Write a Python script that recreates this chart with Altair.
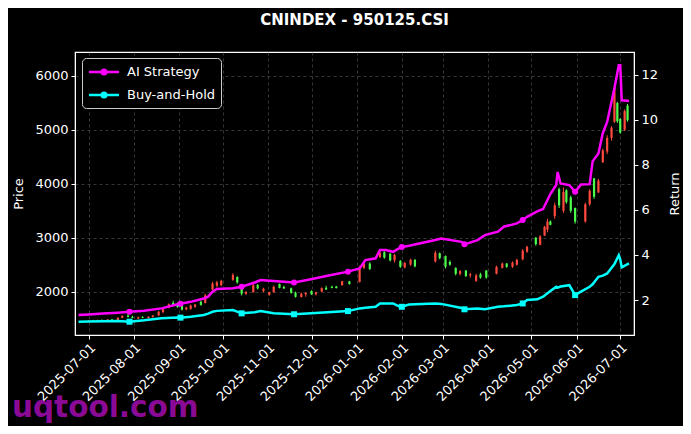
import altair as alt
import pandas as pd

BASE = pd.Timestamp("2025-07-01")

# ---- candlestick data (day offset from 2025-07-01) ----
candle_day = [0, 3, 6, 9, 13, 16, 20, 23, 27, 30, 34, 37, 41, 44, 48, 51, 55, 58, 61, 64,
              67, 70, 73, 77, 80, 85, 88, 91, 99, 102, 105, 108, 113, 116, 120, 124, 127, 131, 134, 139,
              142, 146, 149, 153, 156, 160, 163, 167, 170, 174, 179, 186, 189, 193, 200, 203, 207, 210, 214, 217,
              221, 224, 238, 241, 245, 248, 252, 255, 259, 262, 266, 269, 273, 280, 284, 287, 291, 294, 298, 301,
              307, 310, 313, 315, 317, 320, 323, 326, 328, 331, 334, 341, 344, 347, 350, 353, 356, 359, 361, 363,
              365, 368, 370]
candle_open = [1450, 1462, 1452, 1472, 1460, 1482, 1470, 1515, 1555, 1530, 1500, 1525, 1510, 1530, 1560, 1620, 1700, 1790, 1760, 1740,
               1670, 1680, 1720, 1810, 1790, 2040, 2110, 2120, 2220, 2270, 2060, 1960, 1990, 2120, 2010, 1940, 1990, 2140, 2085, 2060,
               1980, 1900, 1950, 2010, 1950, 2000, 2070, 2090, 2095, 2120, 2190, 2180, 2440, 2520, 2640, 2730, 2700, 2580, 2570, 2450,
               2500, 2590, 2560, 2710, 2660, 2550, 2440, 2330, 2390, 2300, 2200, 2320, 2390, 2330, 2440, 2520, 2460, 2500, 2600, 2740,
               3000, 2870, 3040, 3150, 3300, 3400, 3900, 3500, 3880, 3750, 3550, 3300, 3620, 4100, 3840, 4400, 4600, 4850, 5150, 5500,
               5200, 5000, 5450]
candle_high = [1470, 1475, 1480, 1485, 1490, 1495, 1525, 1560, 1590, 1555, 1535, 1545, 1540, 1565, 1640, 1690, 1780, 1830, 1800, 1760,
               1720, 1760, 1770, 1835, 1960, 2180, 2200, 2220, 2340, 2285, 2080, 2010, 2150, 2140, 2070, 2000, 2110, 2150, 2110, 2075,
               2000, 1980, 1990, 2025, 1995, 2080, 2110, 2110, 2105, 2200, 2200, 2480, 2540, 2545, 2760, 2750, 2720, 2700, 2585, 2550,
               2610, 2600, 2760, 2725, 2670, 2580, 2450, 2400, 2400, 2350, 2330, 2350, 2400, 2480, 2540, 2530, 2560, 2610, 2790, 2850,
               3010, 3050, 3220, 3350, 3320, 3650, 3930, 3930, 3900, 3780, 3560, 3650, 3900, 4110, 4090, 4650, 4900, 5070, 5820, 5520,
               5220, 5380, 5480]
candle_low = [1440, 1445, 1448, 1455, 1455, 1465, 1465, 1505, 1520, 1505, 1490, 1505, 1500, 1520, 1550, 1600, 1690, 1740, 1700, 1650,
              1655, 1665, 1700, 1740, 1780, 2020, 2080, 2100, 2200, 2150, 1930, 1940, 1980, 2040, 1990, 1925, 1980, 2060, 2050, 1960,
              1890, 1890, 1905, 1940, 1930, 1990, 2030, 2060, 2060, 2110, 2130, 2170, 2420, 2400, 2620, 2610, 2560, 2540, 2440, 2430,
              2480, 2450, 2540, 2600, 2430, 2480, 2300, 2300, 2270, 2260, 2180, 2240, 2240, 2320, 2430, 2440, 2440, 2480, 2580, 2720,
              2850, 2860, 3030, 3100, 3230, 3350, 3550, 3460, 3630, 3460, 3260, 3280, 3590, 3720, 3830, 4390, 4550, 4800, 5130, 5130,
              4930, 4980, 5150]
candle_close = [1462, 1452, 1472, 1460, 1482, 1470, 1515, 1550, 1530, 1512, 1525, 1510, 1535, 1555, 1625, 1675, 1765, 1750, 1715, 1665,
                1705, 1745, 1760, 1755, 1930, 2150, 2170, 2200, 2310, 2170, 1960, 1995, 2120, 2060, 2050, 1990, 2090, 2070, 2060, 1980,
                1905, 1960, 1975, 1950, 1985, 2065, 2040, 2070, 2065, 2190, 2140, 2450, 2520, 2420, 2720, 2630, 2580, 2680, 2460, 2530,
                2590, 2470, 2720, 2620, 2460, 2500, 2330, 2380, 2290, 2320, 2300, 2260, 2260, 2460, 2520, 2460, 2540, 2590, 2760, 2830,
                2880, 3020, 3200, 3300, 3240, 3600, 3600, 3850, 3660, 3500, 3300, 3620, 3870, 3760, 4060, 4620, 4850, 5040, 5780, 5160,
                4950, 5350, 5180]

# ---- return lines ----
line_day = [-7, 0, 10, 20, 28, 38, 50, 61, 63, 70, 79, 82, 85, 88, 99, 105, 114, 118, 127, 141,
            150, 164, 178, 186, 190, 197, 200, 204, 209, 213, 215, 220, 238, 242, 256, 258, 267, 272, 281, 285,
            294, 298, 301, 308, 312, 317, 321, 322, 324, 330, 334, 338, 344, 346, 350, 353, 356, 361, 364, 365,
            366, 371]
ai_strategy = [1.34, 1.36, 1.40, 1.44, 1.48, 1.53, 1.63, 1.81, 1.84, 1.92, 2.07, 2.15, 2.37, 2.49, 2.52, 2.59, 2.78, 2.89, 2.84, 2.78,
               2.89, 3.08, 3.26, 3.40, 3.77, 3.85, 4.22, 4.22, 4.14, 4.29, 4.35, 4.41, 4.66, 4.73, 4.58, 4.47, 4.66, 4.88, 5.03, 5.25,
               5.40, 5.55, 5.69, 5.93, 6.04, 6.70, 7.10, 7.68, 7.17, 7.10, 6.80, 7.12, 7.14, 8.15, 8.50, 9.40, 9.90, 11.40, 12.41, 12.41,
               10.86, 10.83]
buy_hold = [1.04, 1.05, 1.06, 1.07, 1.04, 1.10, 1.19, 1.23, 1.22, 1.26, 1.34, 1.40, 1.48, 1.52, 1.56, 1.41, 1.46, 1.51, 1.41, 1.37,
            1.40, 1.46, 1.51, 1.63, 1.66, 1.70, 1.85, 1.85, 1.85, 1.72, 1.70, 1.80, 1.85, 1.83, 1.65, 1.59, 1.63, 1.59, 1.70, 1.72,
            1.78, 1.85, 2.00, 2.03, 2.15, 2.40, 2.59, 2.55, 2.60, 2.66, 2.22, 2.37, 2.59, 2.70, 3.03, 3.08, 3.18, 3.60, 3.99, 3.80,
            3.45, 3.63]
marker_day = [28, 63, 105, 141, 178, 215, 258, 298, 334]

series_names = ["AI Strategy", "Buy-and-Hold"]
series_colors = ["#ff00ff", "#00ffff"]
month_ticks = [(2025, m) for m in range(7, 13)] + [(2026, m) for m in range(1, 8)]
price_ticks = [2000, 3000, 4000, 5000, 6000]
return_ticks = [2, 4, 6, 8, 10, 12]
watermark_text = ["uqtool.com"]


def to_date(d):
    return (BASE + pd.Timedelta(days=d)).strftime("%Y-%m-%dT00:00:00")


candles = pd.DataFrame({
    "date": [to_date(d) for d in candle_day],
    "open": candle_open, "high": candle_high, "low": candle_low, "close": candle_close,
})
lines = pd.DataFrame({
    "date": [to_date(d) for d in line_day] * 2,
    "value": ai_strategy + buy_hold,
    "series": [series_names[0]] * len(line_day) + [series_names[1]] * len(line_day),
    "marker": [d in marker_day for d in line_day] * 2,
})

FONT = "DejaVu Sans"
x_enc = alt.X(
    "date:T",
    title=None,
    scale=alt.Scale(domain=[alt.DateTime(year=2025, month=6, date=25),
                            alt.DateTime(year=2026, month=7, date=7)]),
    axis=alt.Axis(
        values=[alt.DateTime(year=y, month=m, date=1) for y, m in month_ticks],
        format="%Y-%m-%d", labelAngle=315, labelAlign="right", labelBaseline="top",
        grid=True, labelPadding=2, labelOverlap=False, labelBound=False, labelFlush=False,
    ),
)

up_down = alt.condition("datum.close >= datum.open", alt.value("#ff4a3d"), alt.value("#4dff4d"))
y_price = alt.Scale(domain=[1195, 6445], nice=False, zero=False)

wicks = alt.Chart(candles).mark_rule(strokeWidth=1).encode(
    x=x_enc,
    y=alt.Y("low:Q", scale=y_price,
            axis=alt.Axis(title="Price", values=price_ticks, format="d", grid=True, orient="left",
                          titleX=-57, titleBaseline="middle")),
    y2="high:Q",
    color=up_down,
)
bodies = alt.Chart(candles).mark_bar(size=2.2).encode(
    x=x_enc,
    y=alt.Y("open:Q", scale=y_price),
    y2="close:Q",
    color=up_down,
)
candle_layer = alt.layer(wicks, bodies)

y_ret = alt.Scale(domain=[0.45, 13.0], nice=False, zero=False)
line_marks = alt.Chart(lines).mark_line(strokeWidth=2.5).encode(
    x=x_enc,
    y=alt.Y("value:Q", scale=y_ret,
            axis=alt.Axis(title="Return", values=return_ticks, format="d", grid=False, orient="right",
                          titleAngle=270, titleX=40, titleBaseline="middle")),
    color=alt.Color(
        "series:N",
        scale=alt.Scale(domain=series_names, range=series_colors),
        legend=alt.Legend(
            title=None, orient="none", legendX=7, legendY=6,
            symbolType="M-2,0L2,0M0.3,0A0.3,0.3,0,1,1,-0.3,0A0.3,0.3,0,1,1,0.3,0",
            symbolSize=225, symbolStrokeWidth=2.5, symbolOffset=8,
            fillColor="black", strokeColor="#cccccc", cornerRadius=4, padding=5,
            labelColor="white", labelFontSize=13, labelFont=FONT, rowPadding=6,
            labelOffset=14,
        ),
    ),
    detail="series:N",
)
ai_points = alt.Chart(lines).transform_filter(
    "datum.marker && datum.series == 'AI Strategy'"
).mark_point(filled=True, shape="circle", size=36, opacity=1, color="#ff00ff").encode(
    x=x_enc, y=alt.Y("value:Q", scale=y_ret))
bh_points = alt.Chart(lines).transform_filter(
    "datum.marker && datum.series == 'Buy-and-Hold'"
).mark_point(filled=True, shape="square", size=36, opacity=1, color="#00ffff").encode(
    x=x_enc, y=alt.Y("value:Q", scale=y_ret))
return_layer = alt.layer(line_marks, ai_points, bh_points)

watermark = alt.Chart(pd.DataFrame({"t": watermark_text})).mark_text(
    align="left", baseline="alphabetic", font=FONT, fontSize=29.5, fontWeight="bold",
    color="#8a0a96",
).encode(text="t:N", x=alt.value(-63), y=alt.value(365))

chart = alt.layer(watermark, candle_layer, return_layer).resolve_scale(y="independent").properties(
    width=559, height=283,
    autosize=alt.AutoSizeParams(type="none"),
    padding={"left": 67, "top": 44, "right": 49, "bottom": 91},
    background="black",
    title=alt.TitleParams("CNINDEX - 950125.CSI", color="white", fontSize=15, fontWeight="bold",
                          font=FONT, anchor="middle", offset=12, baseline="alphabetic"),
).configure_view(stroke="white", strokeWidth=1.2).configure_axis(
    labelColor="white", labelFont=FONT, labelFontSize=13,
    titleColor="white", titleFont=FONT, titleFontSize=13, titleFontWeight="normal",
    tickColor="white", tickSize=4, domainColor="white",
    gridColor="#5a5a5a", gridDash=[3, 3], gridWidth=0.6, labelPadding=3,
)

chart.save("out.html", embed_options={"renderer": "svg", "actions": False})
